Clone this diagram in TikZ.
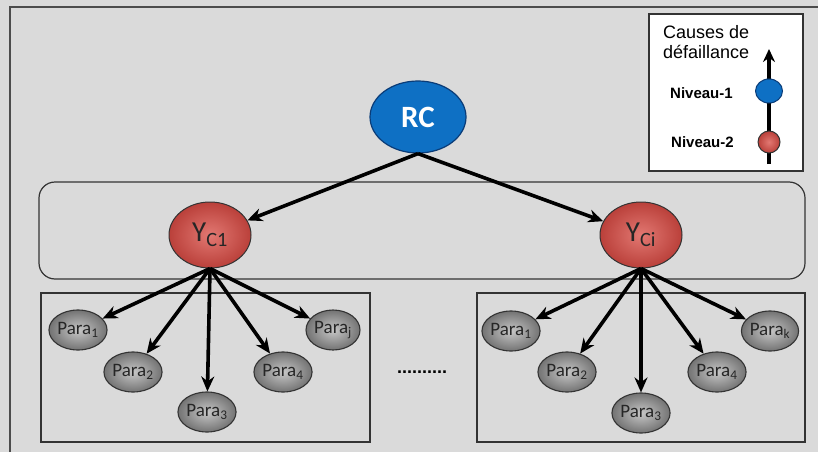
\documentclass[tikz,border=0pt]{standalone}
\usepackage{fontspec}
\setmainfont{Liberation Sans}
\newfontfamily\calib{Carlito}
\usetikzlibrary{shapes.geometric,arrows.meta}

\definecolor{bggray}{RGB}{218,218,218}
\definecolor{rcblue}{RGB}{14,112,196}
\definecolor{rcedge}{RGB}{10,60,120}
\definecolor{ylight}{RGB}{226,120,114}
\definecolor{ydark}{RGB}{186,64,58}

\tikzset{
  rcnode/.style={ellipse, draw=rcedge, line width=1.2pt, fill=rcblue,
    minimum width=96pt, minimum height=72pt, inner sep=0pt,
    text=white, font=\calib\bfseries\fontsize{31}{31}\selectfont},
  ynode/.style={ellipse, draw=black!80, line width=1pt,
    inner color=ylight, outer color=ydark,
    minimum width=82pt, minimum height=66pt, inner sep=0pt,
    text=black!85, font=\calib\fontsize{29}{29}\selectfont},
  paranode/.style={ellipse, draw=black!80, line width=1.1pt,
    inner color=black!22, outer color=black!55,
    minimum width=54pt, minimum height=40pt, inner sep=0pt,
    text=black!85, font=\calib\fontsize{19}{19}\selectfont},
  link/.style={-{Stealth[length=15pt,width=13pt]}, line width=3.6pt},
  frame/.style={draw=black!80, line width=1.2pt},
  legtext/.style={anchor=west, inner sep=0pt, font=\fontsize{18}{18}\selectfont}
}

\begin{document}
\begin{tikzpicture}[x=1pt, y=-1pt]
    \useasboundingbox (0,0) rectangle (818,452);
    \fill[bggray] (0,0) rectangle (818,452);
    \draw[black!70, line width=1.5pt] (10,452) -- (10,7) -- (818,7);

    % legend
    \draw[frame, fill=white] (649,14) rectangle (803,171);
    \node[legtext] (cause1) at (663,32) {Causes de};
    \node[legtext] (cause2) at (663,52) {défaillance};
    \coordinate (legbot) at (769,164);
    \coordinate (legtop) at (769,49);
    \draw[-{Stealth[length=13pt,width=12pt]}, line width=3.2pt] (legbot) -- (legtop);
    \node[ellipse, draw=rcedge, line width=1pt, fill=rcblue,
          minimum width=27pt, minimum height=24pt] (lev1) at (769,91) {};
    \node[circle, draw=black!80, line width=1pt, inner color=ylight, outer color=ydark,
          minimum size=22pt, inner sep=0pt] (lev2) at (769,142) {};
    \node[legtext, font=\bfseries\fontsize{15}{15}\selectfont] (niv1) at (670,93) {Niveau-1};
    \node[legtext, font=\bfseries\fontsize{15}{15}\selectfont] (niv2) at (671,142) {Niveau-2};

    % boxes
    \draw[frame, rounded corners=16pt] (39,182) rectangle (805,279);
    \draw[frame] (41,293) rectangle (370,442);
    \draw[frame] (477,293) rectangle (805,442);

    % nodes
    \node[rcnode] (rc) at (418,117) {RC};
    \node[ynode] (yc1) at (210,235) {Y\textsubscript{C1}};
    \node[ynode] (yci) at (641,235) {Y\textsubscript{Ci}};

    \node[paranode] (a1) at (78,330) {Para\textsubscript{1}};
    \node[paranode] (a2) at (133,372) {Para\textsubscript{2}};
    \node[paranode] (a3) at (207,412) {Para\textsubscript{3}};
    \node[paranode] (a4) at (283,372) {Para\textsubscript{4}};
    \node[paranode] (aj) at (333,330) {Para\textsubscript{j}};

    \node[paranode] (b1) at (511,331) {Para\textsubscript{1}};
    \node[paranode] (b2) at (567,372) {Para\textsubscript{2}};
    \node[paranode] (b3) at (641,413) {Para\textsubscript{3}};
    \node[paranode] (b4) at (717,372) {Para\textsubscript{4}};
    \node[paranode] (bk) at (770,331) {Para\textsubscript{k}};

    \node[font=\bfseries\fontsize{18}{18}\selectfont] (dots) at (422,372) {..........};

    % connectors
    \draw[link] (rc.south) -- (yc1);
    \draw[link] (rc.south) -- (yci);
    \foreach \p in {a1,a2,a3,a4,aj}
        \draw[link] (yc1.south) -- (\p);
    \foreach \p in {b1,b2,b3,b4,bk}
        \draw[link] (yci.south) -- (\p);
\end{tikzpicture}
\end{document}
